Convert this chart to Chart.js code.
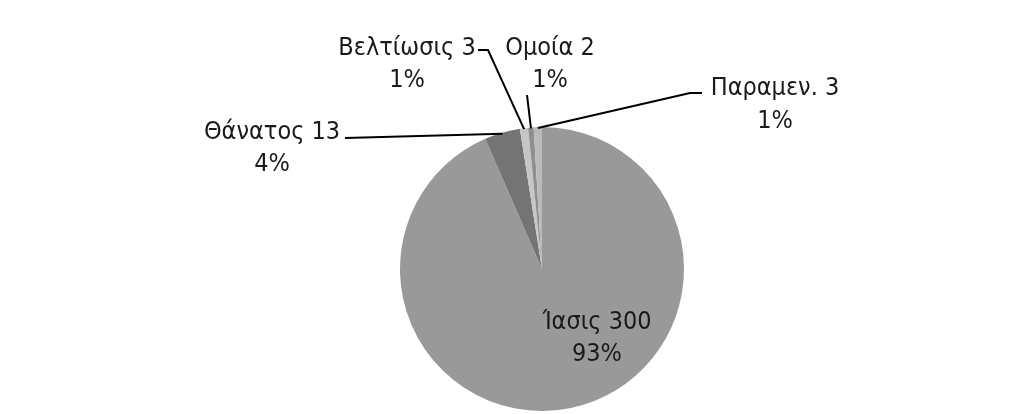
<!DOCTYPE html>
<html>
<head>
<meta charset="utf-8">
<script src="https://cdn.jsdelivr.net/npm/chart.js@4.4.0/dist/chart.umd.min.js"></script>
<style>
  html, body { margin: 0; padding: 0; background: #fff; }
  #wrap { width: 1024px; height: 414px; }
</style>
</head>
<body>
<div id="wrap"><canvas id="c" width="1024" height="414"></canvas></div>
<script>
// ---- data ----
const categories = ['Ίασις', 'Θάνατος', 'Βελτίωσις', 'Ομοία', 'Παραμεν.'];
const counts = [300, 13, 3, 2, 3];
const percentLabels = ['93%', '4%', '1%', '1%', '1%'];

// ---- styles / label placement (relative to pie centre) ----
const sliceColors = ['#999999', '#747474', '#c6c6c6', '#8f8f8f', '#bababa'];
const labelPos = [
  {x: 55, y1: 53, y2: 85},
  {x: -270, y1: -137, y2: -105},
  {x: -135, y1: -221, y2: -189},
  {x: 8, y1: -221, y2: -189},
  {x: 233, y1: -181, y2: -148}
];
const leaderStart = [
  null,
  [[-197, -131]],
  [[-64, -219], [-54, -219]],
  [[-15, -174]],
  [[160, -176], [148, -176]]
];

const labelPlugin = {
  id: 'pieLabels',
  afterDatasetsDraw(chart) {
    const ctx = chart.ctx;
    const meta = chart.getDatasetMeta(0);
    const arc0 = meta.data[0];
    const cx = arc0.x, cy = arc0.y;
    ctx.save();
    // leader lines
    ctx.strokeStyle = '#000';
    ctx.lineWidth = 2;
    meta.data.forEach((arc, i) => {
      const pts = leaderStart[i];
      if (!pts) return;
      const mid = (arc.startAngle + arc.endAngle) / 2;
      const r = arc.outerRadius - 1;
      ctx.beginPath();
      ctx.moveTo(cx + pts[0][0], cy + pts[0][1]);
      for (let k = 1; k < pts.length; k++) ctx.lineTo(cx + pts[k][0], cy + pts[k][1]);
      ctx.lineTo(cx + Math.cos(mid) * r, cy + Math.sin(mid) * r);
      ctx.stroke();
    });
    // texts
    ctx.fillStyle = '#1a1a1a';
    ctx.textAlign = 'center';
    ctx.textBaseline = 'middle';
    ctx.font = "25px 'Liberation Sans Narrow', 'DejaVu Sans Condensed', sans-serif";
    categories.forEach((c, i) => {
      const p = labelPos[i];
      ctx.fillText(c + ' ' + counts[i], cx + p.x, cy + p.y1);
      ctx.fillText(percentLabels[i], cx + p.x, cy + p.y2);
    });
    ctx.restore();
  }
};

new Chart(document.getElementById('c'), {
  type: 'pie',
  data: {
    labels: categories,
    datasets: [{
      data: counts,
      backgroundColor: sliceColors,
      borderWidth: 0
    }]
  },
  options: {
    responsive: false,
    animation: false,
    layout: { padding: { left: 60, right: 0, top: 127, bottom: 3 } },
    plugins: { legend: { display: false }, tooltip: { enabled: false } }
  },
  plugins: [labelPlugin]
});
</script>
</body>
</html>
